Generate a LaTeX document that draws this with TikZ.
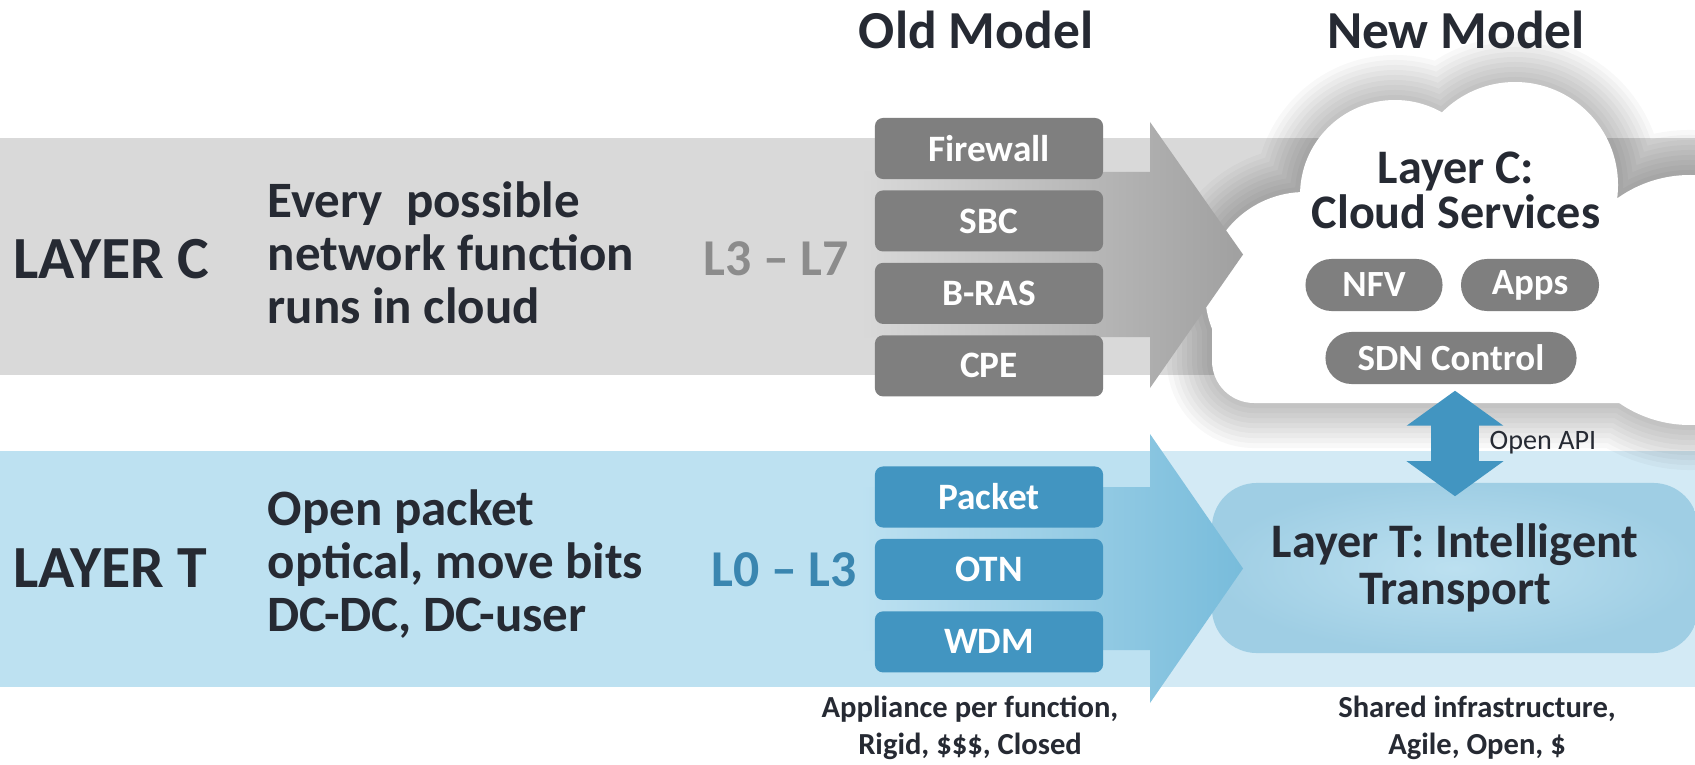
\documentclass[tikz,border=0pt]{standalone}
\usepackage{fontspec}
\setmainfont{Carlito}
\usetikzlibrary{positioning,arrows.meta}

\definecolor{bandgray}{HTML}{D9D9D9}
\definecolor{boxgray}{HTML}{7F7F7F}
\definecolor{headgray}{HTML}{A0A0A0}
\definecolor{bandblue}{HTML}{BDE1F1}
\definecolor{bandblueright}{HTML}{D3EAF5}
\definecolor{boxblue}{HTML}{4295C1}
\definecolor{headblue}{HTML}{78BCDB}
\definecolor{transin}{HTML}{BCE0F0}
\definecolor{transout}{HTML}{9FCEE4}
\definecolor{darktext}{HTML}{262A33}
\definecolor{rangegray}{HTML}{8C8C8C}
\definecolor{rangeblue}{HTML}{3A86B0}

\newcommand{\cloudbumps}{(1305,292) circle[radius=100] (1395,195) circle[radius=95] (1515,185) circle[radius=103] (1690,300) circle[radius=125]}
\newcommand{\cloudbase}{[rounded corners=0.42cm] (1212,250) rectangle (1700,403)}

\begin{document}
\begin{tikzpicture}[x=0.01cm,y=-0.01cm,
		modeltitle/.style={font=\bfseries\fontsize{15.2}{18}\selectfont, text=darktext},
		layername/.style={anchor=west, inner sep=0pt, font=\bfseries\fontsize{17}{20}\selectfont, text=darktext},
		layerdesc/.style={anchor=west, inner sep=0pt, align=left, font=\bfseries\fontsize{14.5}{15.1}\selectfont, text=darktext},
		layerrange/.style={font=\bfseries\fontsize{14.7}{18}\selectfont},
		oldbox/.style={fill=boxgray, rounded corners=0.08cm, minimum width=2.28cm, minimum height=0.61cm, inner sep=0pt, text=white, font=\bfseries\fontsize{10.6}{12}\selectfont},
		newbox/.style={oldbox, fill=boxblue},
		pill/.style={fill=boxgray, rounded corners=0.26cm, minimum height=0.52cm, inner sep=0pt, text=white, font=\bfseries\fontsize{10.5}{12}\selectfont},
		transbox/.style={inner color=transin, outer color=transout, rounded corners=0.45cm, minimum width=4.86cm, minimum height=1.70cm, align=center, text=darktext, font=\bfseries\fontsize{13.7}{13.4}\selectfont},
		modelnote/.style={align=center, text=darktext, font=\bfseries\fontsize{8.7}{10.4}\selectfont},
		apiarrow/.style={draw=boxblue, line width=0.48cm, {Triangle[length=0.35cm,width=0.95cm]}-{Triangle[length=0.35cm,width=0.95cm]}}]
	\useasboundingbox (0,0) rectangle (1695,764);
	\fill[white] (0,0) rectangle (1695,764);

	\fill[bandgray] (0,138) rectangle (1695,375);
	\fill[bandblue] (0,451) rectangle (1150,687);
	\fill[bandblueright] (1150,451) rectangle (1695,687);

	\foreach \w in {0.9,0.8,...,0.1}
		\draw[line width=\w cm, black, opacity=0.027] \cloudbumps \cloudbase;
	\fill[white] \cloudbumps;
	\fill[white] \cloudbase;

	\node[transbox] (transport) at (1455,568) {Layer T: Intelligent\\Transport};

	\shade[left color=bandgray, right color=headgray] (860,172) -- (1150,172) -- (1150,122) -- (1243,254.5) -- (1150,388) -- (1150,337) -- (860,337) -- cycle;
	\shade[left color=bandblue, right color=headblue] (860,487) -- (1150,487) -- (1150,434) -- (1243,568.5) -- (1150,703) -- (1150,650) -- (860,650) -- cycle;

	\node[modeltitle] (oldtitle) at (976,30) {Old Model};
	\node[modeltitle] (newtitle) at (1456,30) {New Model};

	\node[layername] (namec) at (13,259) {LAYER C};
	\node[layerdesc] (descc) at (267,253) {Every~ possible\\network function\\runs in cloud};
	\node[layerrange, text=rangegray] (rangec) at (776,259) {L3 -- L7};

	\node[layername] (namet) at (13,568) {LAYER T};
	\node[layerdesc] (desct) at (267,564) {Open packet\\optical, move bits\\DC-DC, DC-user};
	\node[layerrange, text=rangeblue] (ranget) at (784,570) {L0 -- L3};

	\node[oldbox] (fw) at (989,148.5) {Firewall};
	\node[oldbox, below=0.1cm of fw] (sbc) {SBC};
	\node[oldbox, below=0.1cm of sbc] (bras) {B-RAS};
	\node[oldbox, below=0.1cm of bras] (cpe) {CPE};

	\node[newbox] (packet) at (989,497) {Packet};
	\node[newbox, below=0.1cm of packet] (otn) {OTN};
	\node[newbox, below=0.1cm of otn] (wdm) {WDM};

	\node[align=center, text=darktext, font=\bfseries\fontsize{13.7}{12.8}\selectfont] (cloudtitle) at (1456,190) {Layer C:\\Cloud Services};
	\node[pill, minimum width=1.37cm] (nfv) at (1374,285) {NFV};
	\node[pill, minimum width=1.38cm, right=0.17cm of nfv] (apps) {Apps};
	\node[pill, minimum width=2.51cm] (sdn) at (1451,358) {SDN Control};

	\coordinate (api) at (1455,0);
	\draw[apiarrow, shorten <=0.06cm, shorten >=-0.14cm] (sdn.south -| api) -- (transport.north -| api);
	\node[anchor=west, inner sep=0pt, text=darktext, font=\fontsize{8}{9.6}\selectfont] (openapi) at (1489,443) {Open API};

	\node[modelnote] (oldnote) at (970,728) {Appliance per function,\\Rigid, \$\$\$, Closed};
	\node[modelnote] (newnote) at (1477,728) {Shared infrastructure,\\Agile, Open, \$};
\end{tikzpicture}
\end{document}
